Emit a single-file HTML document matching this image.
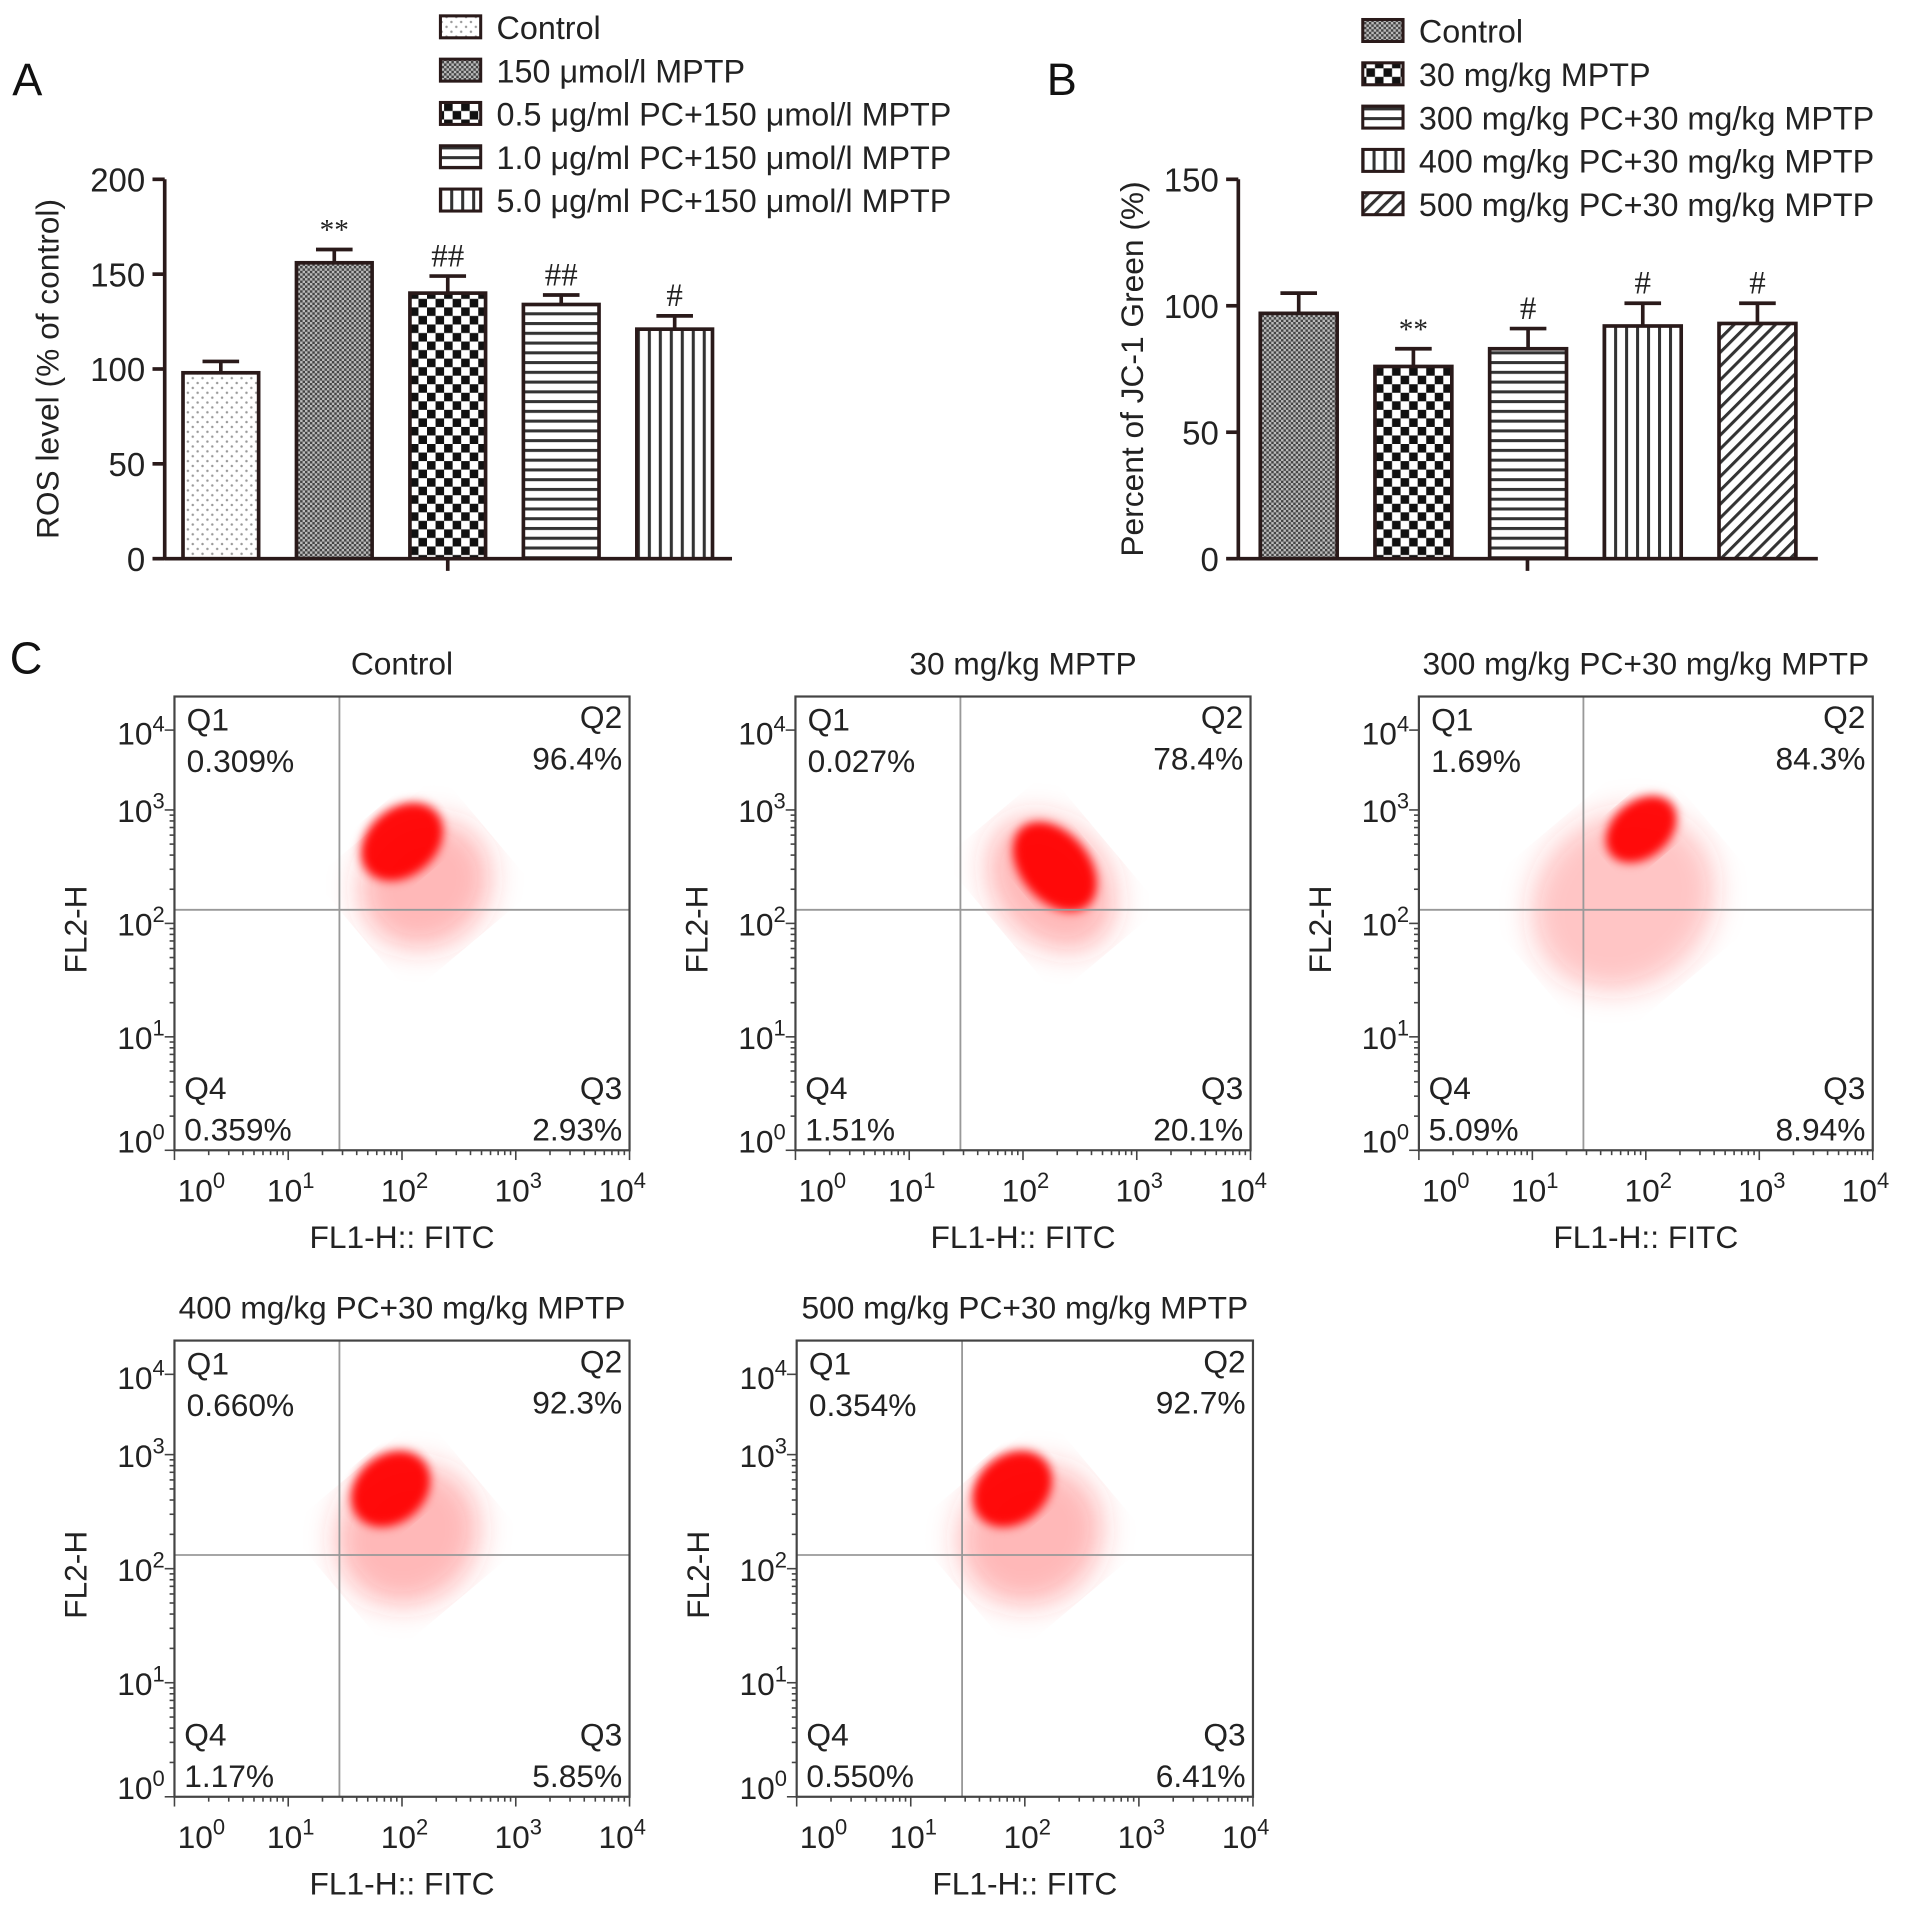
<!DOCTYPE html>
<html><head><meta charset="utf-8"><style>
html,body{margin:0;padding:0;background:#fff;}
svg{display:block;font-family:"Liberation Sans",Arial,sans-serif;}
</style></head><body>
<svg id="fig" width="1913" height="1909" viewBox="0 0 1568 1565" preserveAspectRatio="none" xmlns="http://www.w3.org/2000/svg">
<defs>
<pattern id="pDots" width="8" height="8" patternUnits="userSpaceOnUse"><rect width="8" height="8" fill="#fff"/><circle cx="2" cy="2" r="1" fill="#999"/><circle cx="6" cy="6" r="1" fill="#999"/></pattern>
<pattern id="pFine" width="4" height="4" patternUnits="userSpaceOnUse"><rect width="4" height="4" fill="#bbb"/><rect width="2" height="2" fill="#444"/><rect x="2" y="2" width="2" height="2" fill="#444"/></pattern>
<pattern id="pCheck" width="14" height="14" patternUnits="userSpaceOnUse"><rect width="14" height="14" fill="#fff"/><rect width="7" height="7" fill="#111"/><rect x="7" y="7" width="7" height="7" fill="#111"/></pattern>
<pattern id="pHor" width="8" height="8" patternUnits="userSpaceOnUse"><rect width="8" height="8" fill="#fff"/><rect y="0" width="8" height="2.5" fill="#333"/></pattern>
<pattern id="pVer" width="9" height="9" patternUnits="userSpaceOnUse"><rect width="9" height="9" fill="#fff"/><rect x="0" width="2.5" height="9" fill="#333"/></pattern>
<pattern id="pDiag" width="8" height="8" patternUnits="userSpaceOnUse" patternTransform="rotate(45)"><rect width="8" height="8" fill="#fff"/><rect width="2.5" height="8" fill="#333"/></pattern>
<filter id="blur4"><feGaussianBlur stdDeviation="4"/></filter>
<filter id="blur10"><feGaussianBlur stdDeviation="12"/></filter>
</defs>
<g id="root"></g>
</svg>
<script>
// ---- Panel A data ----
const aCategories = ["Control","150 μmol/l MPTP","0.5 μg/ml PC+150 μmol/l MPTP","1.0 μg/ml PC+150 μmol/l MPTP","5.0 μg/ml PC+150 μmol/l MPTP"];
const aValues = [98,156,140,134,121];
const aErrors = [6,7,9,5,7];
const aMarks = ["","**","##","##","#"];
const aTicks = [0,50,100,150,200];
const aPatterns = ["pDots","pFine","pCheck","pHor","pVer"];
// ---- Panel B data ----
const bCategories = ["Control","30 mg/kg MPTP","300 mg/kg PC+30 mg/kg MPTP","400 mg/kg PC+30 mg/kg MPTP","500 mg/kg PC+30 mg/kg MPTP"];
const bValues = [97,76,83,92,93];
const bErrors = [8,7,8,9,8];
const bMarks = ["","**","#","#","#"];
const bTicks = [0,50,100,150];
const bPatterns = ["pFine","pCheck","pHor","pVer","pDiag"];
// ---- Panel C data ----
const cTitles = ["Control","30 mg/kg MPTP","300 mg/kg PC+30 mg/kg MPTP","400 mg/kg PC+30 mg/kg MPTP","500 mg/kg PC+30 mg/kg MPTP"];
const cQ1 = ["0.309%","0.027%","1.69%","0.660%","0.354%"];
const cQ2 = ["96.4%","78.4%","84.3%","92.3%","92.7%"];
const cQ3 = ["2.93%","20.1%","8.94%","5.85%","6.41%"];
const cQ4 = ["0.359%","1.51%","5.09%","1.17%","0.550%"];
// cluster centres in log10 units [x, y], spreads in decades
const cCoreX = [2.0,2.28,1.96,1.9,1.89];
const cCoreY = [2.72,2.5,2.83,2.7,2.7];
const cCoreRx = [0.4,0.3,0.35,0.38,0.38];
const cCoreRy = [0.3,0.45,0.25,0.3,0.3];
const cHaloX = [2.2,2.25,1.8,2.05,2.05];
const cHaloY = [2.35,2.35,2.2,2.3,2.3];
const cHaloRx = [0.6,0.5,0.85,0.65,0.65];
const cHaloRy = [0.55,0.65,0.75,0.6,0.6];
const cHaloOp = [0.35,0.35,0.28,0.35,0.35];
const cQuadX = 1.45, cQuadY = 2.12;

const NS="http://www.w3.org/2000/svg";
const root=document.getElementById('root');
function mk(tag,attrs,parent,text){const e=document.createElementNS(NS,tag);for(const k in attrs)e.setAttribute(k,attrs[k]);if(text!==undefined)e.textContent=text;(parent||root).appendChild(e);return e;}

function barPanel(cfg){
  const g=mk('g',{});
  
  
  const y=v=>cfg.y0-(v/cfg.max)*(cfg.y0-cfg.yTop);
  const ax=mk('line',{x1:cfg.ax,y1:cfg.yTop,x2:cfg.ax,y2:cfg.y0+1,stroke:'#2a1a1a','stroke-width':3},g);
  
  const xa=mk('line',{x1:cfg.ax,y1:cfg.y0,x2:cfg.axEnd,y2:cfg.y0,stroke:'#2a1a1a','stroke-width':3},g);
  
  mk('line',{x1:cfg.midTick,y1:cfg.y0,x2:cfg.midTick,y2:cfg.y0+10,stroke:'#2a1a1a','stroke-width':3},g);
  cfg.ticks.forEach(t=>{
    mk('line',{x1:cfg.ax-10,y1:y(t),x2:cfg.ax,y2:y(t),stroke:'#2a1a1a','stroke-width':3},g);
    const tl=mk('text',{x:cfg.ax-16,y:y(t)+10,'text-anchor':'end','font-size':27,fill:'#222'},g,String(t));
    
  });
  const yl=mk('text',{transform:`translate(${cfg.ylx},${(cfg.yTop+cfg.y0)/2}) rotate(-90)`,'text-anchor':'middle','font-size':26,fill:'#222'},g,cfg.ylabel);
  
  cfg.values.forEach((v,i)=>{
    const x=cfg.x0+i*cfg.step, w=cfg.bw, cx=x+w/2;
    const b=mk('rect',{x:x,y:y(v),width:w,height:cfg.y0-y(v),fill:`url(#${cfg.pats[i]})`,stroke:'#2a1a1a','stroke-width':3},g);
    
    const e=y(v+cfg.err[i]);
    const el=mk('path',{d:`M${cx},${y(v)} V${e} M${cx-15},${e} H${cx+15}`,stroke:'#2a1a1a','stroke-width':3,fill:'none'},g);
    
    if(cfg.marks[i]){const m=mk('text',{x:cx,y:e-8,'text-anchor':'middle','font-size':cfg.marks[i]=='**'?24:27,fill:'#222','font-family':'Liberation Serif, serif'},g,cfg.marks[i]);
      }
  });
  cfg.cats.forEach((c,i)=>{
    const yy=cfg.legY+i*cfg.legStep;
    const r=mk('rect',{x:cfg.legX,y:yy-9,width:33,height:18,fill:`url(#${cfg.pats[i]})`,stroke:'#2a1a1a','stroke-width':2.5},g);
    
    const t=mk('text',{x:cfg.legX+46,y:yy+10,'font-size':cfg.legFont,fill:'#222'},g,c);
    
  });
}
barPanel({name:'panel-a-chart',ax:135,axEnd:600,yTop:147,y0:458,max:200,ticks:aTicks,values:aValues,err:aErrors,marks:aMarks,pats:aPatterns,cats:aCategories,x0:150,step:93,bw:62,midTick:367,ylx:48,ylabel:'ROS level (% of control)',legX:361,legY:22,legStep:35.5,legFont:26.5});
barPanel({name:'panel-b-chart',ax:1015,axEnd:1490,yTop:147,y0:458,max:150,ticks:bTicks,values:bValues,err:bErrors,marks:bMarks,pats:bPatterns,cats:bCategories,x0:1033,step:94,bw:63,midTick:1252,ylx:937,ylabel:'Percent of JC-1 Green (%)',legX:1117,legY:25,legStep:35.5,legFont:26.5});

[['A',10,78],['B',858,78],['C',8,552]].forEach(([l,x,y])=>{const t=mk('text',{x:x,y:y,'font-size':37,fill:'#111'},root,l);
  });

const boxes=[[143,571,373,372],[652,571,373,372],[1163,571,372,372],[143,1099,373,374],[653,1099,374,374]];
function flow(i){
  const [x0,y0,w,h]=boxes[i];
  const g=mk('g',{});
  
  
  const X=v=>x0+v/4*w;
  const Y=v=>y0+h-(v>=4?0.926*h:v/4*h);
  const clipId='clip'+i;
  const cp=mk('clipPath',{id:clipId},g);mk('rect',{x:x0,y:y0,width:w,height:h},cp);
  const sg=mk('g',{'clip-path':`url(#${clipId})`},g);
  const ang=-40;
  const hx=X(cHaloX[i]),hy=Y(cHaloY[i]);
  const halo=mk('ellipse',{cx:hx,cy:hy,rx:cHaloRx[i]/4*w,ry:cHaloRy[i]/4*h,fill:'#ff3030','fill-opacity':cHaloOp[i],filter:'url(#blur10)',transform:`rotate(${ang} ${hx} ${hy})`},sg);
  
  const cx=X(cCoreX[i]),cy=Y(cCoreY[i]);
  const core=mk('ellipse',{cx:cx,cy:cy,rx:cCoreRx[i]/4*w,ry:cCoreRy[i]/4*h,fill:'#ff0000','fill-opacity':0.95,filter:'url(#blur4)',transform:`rotate(${ang} ${cx} ${cy})`},sg);
  
  mk('line',{x1:X(cQuadX),y1:y0,x2:X(cQuadX),y2:y0+h,stroke:'#999','stroke-width':1.5},g);
  mk('line',{x1:x0,y1:Y(cQuadY),x2:x0+w,y2:Y(cQuadY),stroke:'#999','stroke-width':1.5},g);
  const fr=mk('rect',{x:x0,y:y0,width:w,height:h,fill:'none',stroke:'#444','stroke-width':1.8},g);
  
  for(let d=0;d<4;d++){for(let m=1;m<10;m++){const v=d+Math.log10(m);const L=m==1?8:4;
    mk('line',{x1:X(v),y1:y0+h,x2:X(v),y2:y0+h+L,stroke:'#444','stroke-width':1.3},g);
    if(d<3||m==1)mk('line',{x1:x0-L,y1:Y(v),x2:x0,y2:Y(v),stroke:'#444','stroke-width':1.3},g);}}
  mk('line',{x1:X(4),y1:y0+h,x2:X(4),y2:y0+h+8,stroke:'#444','stroke-width':1.3},g);
  mk('line',{x1:x0-8,y1:Y(4),x2:x0,y2:Y(4),stroke:'#444','stroke-width':1.3},g);
  for(let d=0;d<=4;d++){
    const tx=mk('text',{x:X(d)+(d==0?22:d==4?-6:2),y:y0+h+42,'text-anchor':'middle','font-size':26,fill:'#222'},g);
    
    mk('tspan',{},tx,'10');mk('tspan',{dy:-11,'font-size':18},tx,String(d));
    const ty=mk('text',{x:x0-8,y:Y(d)+(d==0?2:d==4?12:10),'text-anchor':'end','font-size':26,fill:'#222'},g);
    
    mk('tspan',{},ty,'10');mk('tspan',{dy:-11,'font-size':18},ty,String(d));
  }
  const t=mk('text',{x:x0+w/2,y:y0-18,'text-anchor':'middle','font-size':26,fill:'#222'},g,cTitles[i]);
  
  const xl=mk('text',{x:x0+w/2,y:y0+h+80,'text-anchor':'middle','font-size':26,fill:'#222'},g,'FL1-H:: FITC');
  
  const yl=mk('text',{transform:`translate(${x0-72},${y0+h/2+5}) rotate(-90)`,'text-anchor':'middle','font-size':26,fill:'#222'},g,'FL2-H');
  
  const q=[[x0+10,y0+28,'start','Q1',cQ1[i]],[x0+w-6,y0+26,'end','Q2',cQ2[i]],[x0+8,y0+h-42,'start','Q4',cQ4[i]],[x0+w-6,y0+h-42,'end','Q3',cQ3[i]]];
  q.forEach(([qx,qy,an,lab,val])=>{
    const a=mk('text',{x:qx,y:qy,'text-anchor':an,'font-size':26,fill:'#222'},g,lab);
    
    const b=mk('text',{x:qx,y:qy+34,'text-anchor':an,'font-size':26,fill:'#222'},g,val);
    
  });
}
for(let i=0;i<5;i++)flow(i);
</script>
</body></html>
